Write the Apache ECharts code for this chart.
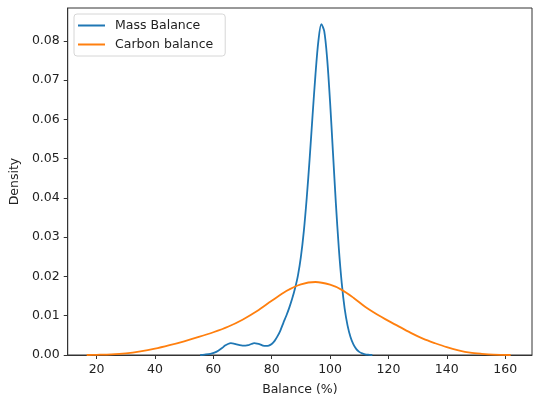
<!DOCTYPE html>
<html>
<head>
<meta charset="utf-8">
<script src="https://cdn.jsdelivr.net/npm/echarts@6/dist/echarts.min.js"></script>
<style>
html,body{margin:0;padding:0;background:#fff;}
#chart{width:533px;height:401px;}
</style>
</head>
<body>
<div id="chart"></div>
<script>
// Mass Balance KDE (x in %, y density)
const massX = [55.5,57,59,61,63,64,65,66,67,68,69,70,71,72,73,74,75,76,77,78,79,80,81,82,83,84,85,86,87,88,89,90,91,92,93,94,95,96,97,98,99,100,101,102,103,104,105,106,107,108,109,110,111,112,113,114.5];
const massY = [0,0.0001,0.0003,0.0008,0.0018,0.0024,0.0028,0.0030,0.0029,0.0027,0.0025,0.0024,0.0024,0.0025,0.0028,0.0030,0.0029,0.0027,0.0024,0.0023,0.0024,0.0028,0.0036,0.0048,0.0063,0.0082,0.0100,0.0120,0.0143,0.0170,0.0203,0.0250,0.0315,0.0400,0.0500,0.0610,0.0715,0.0800,0.0843,0.0825,0.0755,0.0645,0.0515,0.0385,0.0272,0.0183,0.0118,0.0075,0.0046,0.0027,0.0015,0.0008,0.0004,0.00018,0.00007,0];
// Carbon balance KDE
const carbonX = [16.6,20,25,30,35,40,45,50,55,60,65,70,75,80,85,90,95,100,104,108,112,116,120,124,128,132,136,140,144,148,152,156,161.9];
const carbonY = [0,0.00005,0.00015,0.0004,0.0009,0.0016,0.0025,0.0035,0.0046,0.0058,0.0072,0.0090,0.0112,0.0138,0.0163,0.0180,0.0186,0.0179,0.0166,0.0146,0.0123,0.0104,0.0087,0.0071,0.0055,0.0041,0.0030,0.0020,0.0012,0.0006,0.0003,0.0001,0];
const xTicks = [20,40,60,80,100,120,140,160];
const yTicks = [0,0.01,0.02,0.03,0.04,0.05,0.06,0.07,0.08];
const seriesNames = ['Mass Balance','Carbon balance'];

const FONT = 'DejaVu Sans';
const chart = echarts.init(document.getElementById('chart'), null, {renderer:'canvas'});
const zip = (xs, ys) => xs.map((x,i)=>[x, ys[i]]);
chart.setOption({
  animation:false,
  color:['#1f77b4','#ff7f0e'],
  grid:{left:66,right:1,top:8,bottom:44,show:true,borderColor:'#333',borderWidth:1,containLabel:false},
  legend:{
    orient:'vertical', left:74, top:14,
    data:seriesNames,
    icon:'rect', itemWidth:27, itemHeight:2, itemGap:4,
    padding:[4,12,4,4],
    borderColor:'#d6d6d6', borderWidth:1, borderRadius:3,
    backgroundColor:'rgba(255,255,255,0.8)',
    textStyle:{fontFamily:FONT,fontSize:12.5,color:'#222',lineHeight:15,padding:[0,0,0,5]}
  },
  xAxis:{
    type:'value', min:10.1, max:169.2,
    name:'Balance (%)', nameLocation:'middle', nameGap:28,
    nameTextStyle:{fontFamily:FONT,fontSize:12.5,color:'#222'},
    axisLine:{show:true,lineStyle:{color:'#333',width:1}},
    axisTick:{show:true,length:4,lineStyle:{color:'#333'},customValues:xTicks},
    axisLabel:{fontFamily:FONT,fontSize:12.5,color:'#222',margin:8,customValues:xTicks},
    splitLine:{show:false}
  },
  yAxis:{
    type:'value', min:0, max:0.0884,
    name:'Density', nameLocation:'middle', nameGap:42, nameRotate:90,
    nameTextStyle:{fontFamily:FONT,fontSize:12.5,color:'#222'},
    axisLine:{show:true,lineStyle:{color:'#333',width:1}},
    axisTick:{show:true,length:4,lineStyle:{color:'#333'},customValues:yTicks},
    axisLabel:{fontFamily:FONT,fontSize:12.5,color:'#222',margin:8,customValues:yTicks,formatter:v=>v.toFixed(2)},
    splitLine:{show:false}
  },
  series:[
    {name:seriesNames[0],type:'line',data:zip(massX,massY),showSymbol:false,smooth:0.3,lineStyle:{width:1.8,color:'#1f77b4'},itemStyle:{color:'#1f77b4'}},
    {name:seriesNames[1],type:'line',data:zip(carbonX,carbonY),showSymbol:false,smooth:0.3,lineStyle:{width:1.8,color:'#ff7f0e'},itemStyle:{color:'#ff7f0e'}}
  ]
});
</script>
</body>
</html>
